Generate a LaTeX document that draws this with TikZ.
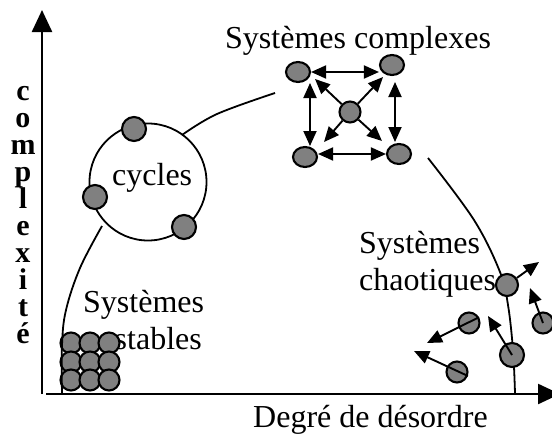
\documentclass[tikz,border=0pt]{standalone}
\usepackage{fontspec}
\setmainfont{Liberation Serif}
\usetikzlibrary{arrows.meta,shapes.geometric}
\definecolor{pgray}{RGB}{128,128,128}
\begin{document}
\begin{tikzpicture}[x=1pt,y=-1pt,
  lbl/.style={inner sep=0pt, anchor=base west, font=\fontsize{32}{38}\selectfont},
  vlbl/.style={inner sep=0pt, anchor=base, font=\fontsize{30}{32}\selectfont\bfseries},
  ptcl/.style={circle, draw=black, fill=pgray, line width=2.1pt, inner sep=0pt, minimum size=#1},
  ptcl/.default=21pt,
  eptcl/.style={ellipse, draw=black, fill=pgray, line width=2.1pt, inner sep=0pt, minimum width=24pt, minimum height=20pt},
  curve/.style={line width=1.8pt},
  axis/.style={line width=2.4pt, -{Triangle[length=22pt,width=20pt]}},
  arr/.style={line width=1.9pt, -{Triangle[length=15pt,width=13pt]}},
  dbl/.style={line width=1.9pt, {Triangle[length=15pt,width=13pt]}-{Triangle[length=15pt,width=13pt]}},
]
\useasboundingbox (0,0) rectangle (552,439);

% axes
\coordinate (ytop) at (42,10);
\coordinate (xend) at (560,394);
\draw[axis] (42,394) -- (ytop);
\draw[axis] (46,394) -- (xend);

% vertical label
\foreach \ch [count=\i] in {c,o,m,p,l,e,x,i,t,é}
  \node[vlbl] (v\i) at (23,{100+(\i-1)*27.1}) {\ch};

% texts
\node[lbl] (tcomplex) at (225,48) {Systèmes complexes};
\node[lbl] (tcycles) at (112,185) {cycles};
\node[lbl] (tstab1) at (83,312) {Systèmes};
\node[lbl, anchor=base east] (tstab2) at (202,349) {stables};
\node[lbl] (tchao1) at (359,253) {Systèmes};
\node[lbl] (tchao2) at (359,290) {chaotiques};
\node[lbl] (txlabel) at (253,427) {Degré de désordre};

% curves
\draw[curve] plot[smooth, tension=0.6] coordinates {(182,135) (217,114) (275,93)};
\draw[curve] plot[smooth, tension=0.6] coordinates {(428,158) (474,220) (500,272) (508,305) (513,350) (515,393)};

% cycles
\node[circle, draw, line width=1.8pt, minimum size=117pt, inner sep=0pt] (cyc) at (148,182) {};
\node[ptcl=24pt] (c1) at (134,129) {};
\node[ptcl=24pt] (c2) at (95,197) {};
\node[ptcl=24pt] (c3) at (184,227) {};

% stable grid
\foreach \r [count=\j] in {343,362,380}
  \foreach \c [count=\k] in {71,90,109}
    \node[ptcl=21pt] (s\j\k) at (\c,\r) {};
\draw[curve] plot[smooth, tension=0.6] coordinates {(62,393) (62,345) (66,310) (80,268) (102,226)};

% complex system
\node[eptcl] (tl) at (298,72) {};
\node[eptcl] (tr) at (392,65) {};
\node[eptcl] (bl) at (305,157) {};
\node[eptcl] (br) at (399,154) {};
\node[ptcl=21pt] (cc) at (350,112) {};
\draw[dbl] (tl.east) -- (tl.east -| tr.west);
\draw[dbl] (310,83) coordinate (lv1) -- (310,146) coordinate (lv2);
\draw[dbl] (395,82) coordinate (rv1) -- (395,142) coordinate (rv2);
\draw[dbl] (bl.east |- br.west) -- (br.west);
\coordinate (d1) at (315,79);
\coordinate (d2) at (383,77);
\coordinate (d3) at (324,142);
\coordinate (d4) at (382,141);
\draw[arr] (cc) -- (d1);
\draw[arr] (cc) -- (d2);
\draw[arr] (cc) -- (d3);
\draw[arr] (cc) -- (d4);

% chaotic particles
\node[ptcl=22pt] (p1) at (507,285) {};
\node[ptcl=21pt] (p2) at (543,323) {};
\node[ptcl=21pt] (p3) at (469,323) {};
\node[ptcl=24pt] (p4) at (512,355) {};
\node[ptcl=21pt] (p5) at (457,372) {};
\coordinate (t1) at (539,262);
\coordinate (t2) at (530,288);
\coordinate (t3) at (427,343);
\coordinate (t4) at (488,316);
\coordinate (t5) at (414,351);
\draw[arr] (p1) -- (t1);
\draw[arr] (p2.center) -- (t2);
\draw[arr] (p3.30) -- (t3);
\draw[arr] (p4.center) -- (t4);
\draw[arr] (p5.-20) -- (t5);
\end{tikzpicture}
\end{document}
